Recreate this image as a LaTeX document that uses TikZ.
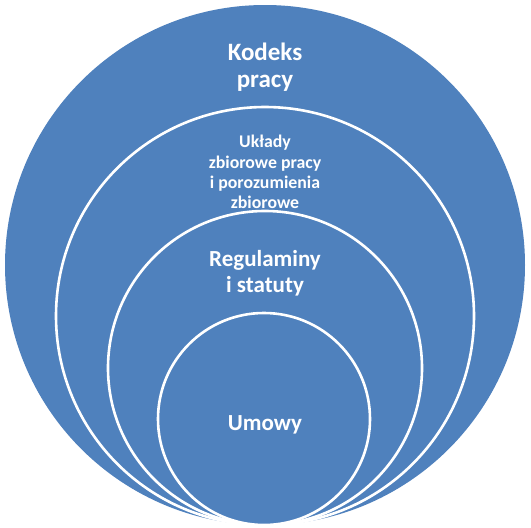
\documentclass[tikz,border=0pt]{standalone}
\usepackage{fontspec}
\setmainfont{Carlito}
\definecolor{ringblue}{HTML}{4F81BD}
\begin{document}
\begin{tikzpicture}[x=1pt,y=-1pt,
  ring/.style={circle, fill=ringblue, draw=white, line width=2.6pt, inner sep=0pt, outer sep=0pt},
  lbl/.style={text=white, font=\bfseries, align=center, inner sep=0pt}]
\useasboundingbox (0,0) rectangle (531,528);
\fill[white] (0,0) rectangle (531,528);
\node[ring, draw=none, minimum size=520pt] (c1) at (265,265) {};
\node[ring, minimum size=418pt] (c2) at (265,316) {};
\node[ring, minimum size=314pt] (c3) at (265,368) {};
\node[ring, minimum size=212pt] (c4) at (264,419) {};
\node[lbl, font=\fontsize{25}{27}\selectfont\bfseries] (t1) at (265,67) {Kodeks\\pracy};
\node[lbl, font=\fontsize{17.8}{20.3}\selectfont\bfseries] (t2) at (265,172) {Układy\\zbiorowe pracy\\i porozumienia\\zbiorowe};
\node[lbl, font=\fontsize{23}{26}\selectfont\bfseries] (t3) at (265,273) {Regulaminy\\i statuty};
\node[lbl, font=\fontsize{23}{26}\selectfont\bfseries] (t4) at (265,425) {Umowy};
\end{tikzpicture}
\end{document}
